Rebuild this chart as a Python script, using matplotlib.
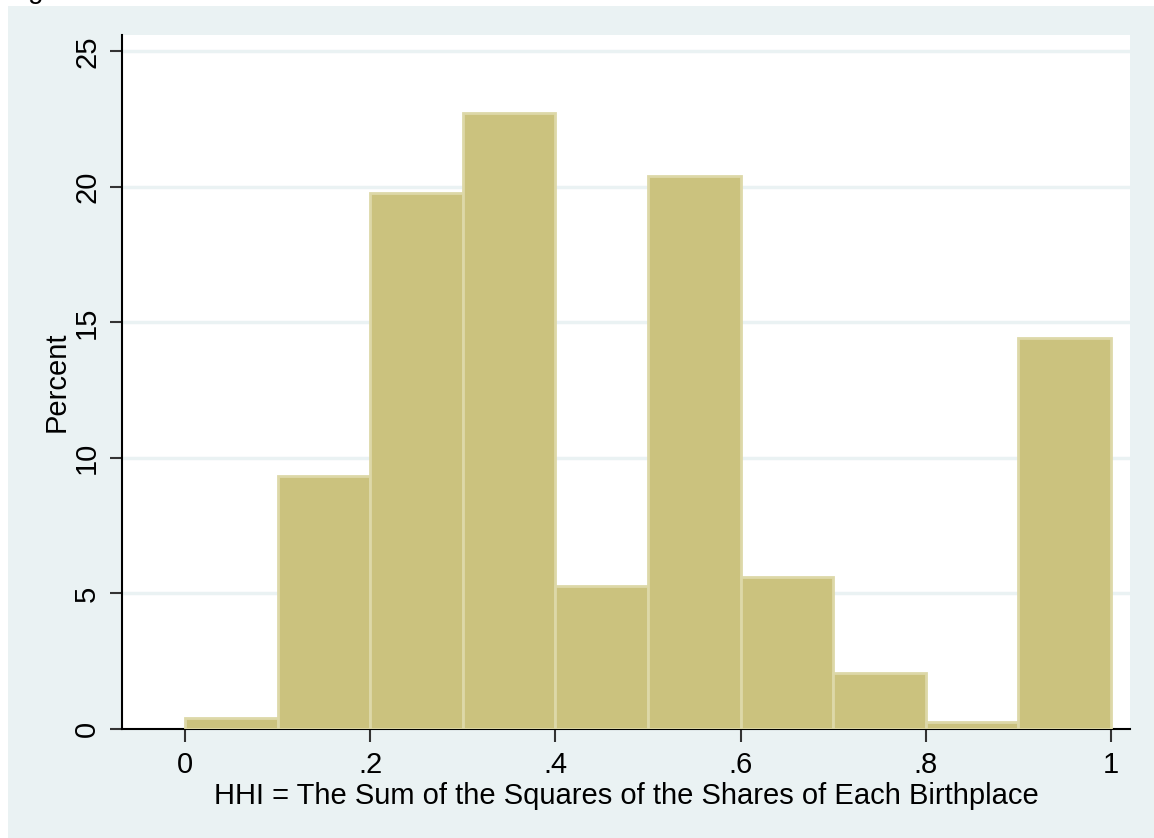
"""
Histogram of HHI (birthplace concentration), Stata s2color look
"""
import matplotlib
matplotlib.use('Agg')
import matplotlib.pyplot as plt
from matplotlib.patches import Rectangle

# Data
bin_left = [0.0, 0.1, 0.2, 0.3, 0.4, 0.5, 0.6, 0.7, 0.8, 0.9]
percent = [0.4, 9.33, 19.78, 22.72, 5.28, 20.4, 5.6, 2.07, 0.27, 14.42]
x_ticks = [0, 0.2, 0.4, 0.6, 0.8, 1.0]
x_ticklabels = ['0', '.2', '.4', '.6', '.8', '1']
y_ticks = [0, 5, 10, 15, 20, 25]
y_ticklabels = ['0', '5', '10', '15', '20', '25']

W, H = 1154, 838
plt.rcParams['font.family'] = ['Liberation Sans', 'DejaVu Sans']

fig = plt.figure(figsize=(W / 100, H / 100), dpi=100, facecolor='white')

# Stata outer background (white strip on top and left edge)
fig.patches.append(Rectangle((8 / W, 0), 1, 1 - 6 / H, transform=fig.transFigure,
                             facecolor='#EAF2F3', edgecolor='none', zorder=-5))
# clipped caption remnant at the very top
fig.text(6 / W, 1 + 2 / H, 'Fig', fontsize=20, ha='left', va='baseline', color='black')

left, right, top, bottom = 122, 1130, 35, 729
ax = fig.add_axes([left / W, (H - bottom) / H, (right - left) / W, (bottom - top) / H])
ax.set_facecolor('white')

ax.bar(bin_left, percent, width=0.1, align='edge', color='#CBC27E',
       edgecolor='#DDD8A8', linewidth=2, zorder=3)

ax.set_xlim(-0.068, 1.0205)
ax.set_ylim(0, 25.6)

ax.set_yticks(y_ticks)
ax.set_yticklabels(y_ticklabels, rotation=90, va='center', fontsize=21)
ax.set_xticks(x_ticks)
ax.set_xticklabels(x_ticklabels, fontsize=21)

for v in y_ticks[1:]:
    ax.axhline(v, color='#EAF2F3', linewidth=2.5, zorder=1)

for s in ['top', 'right']:
    ax.spines[s].set_visible(False)
for s in ['left', 'bottom']:
    ax.spines[s].set_color('black')
    ax.spines[s].set_linewidth(1.5)

ax.tick_params(axis='both', direction='out', length=9, width=1.5, color='#333333')
ax.tick_params(axis='x', pad=7)
ax.tick_params(axis='y', pad=6)

ax.set_xlabel('HHI = The Sum of the Squares of the Shares of Each Birthplace',
              fontsize=21, labelpad=2)
ax.set_ylabel('Percent', fontsize=21, labelpad=2)

fig.savefig('out.png', dpi=100, facecolor='white')
